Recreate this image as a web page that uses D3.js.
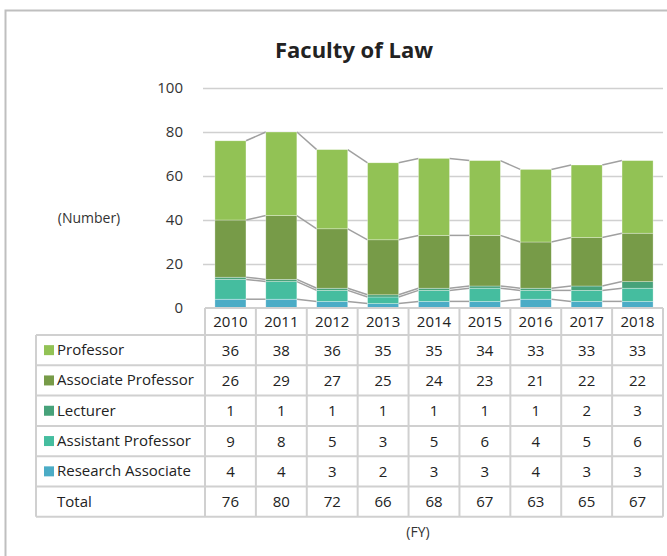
<!DOCTYPE html>
<html>
<head>
<meta charset="utf-8">
<script src="https://cdn.jsdelivr.net/npm/d3@7"></script>
<style>
  body { margin: 0; background: #fff; }
  svg { font-family: "Open Sans", "Noto Sans", sans-serif; }
</style>
</head>
<body>
<div id="chart"></div>
<script>
const years = ['2010', '2011', '2012', '2013', '2014', '2015', '2016', '2017', '2018'];

// bottom to top of each stack
const seriesNames = ['Research Associate', 'Assistant Professor', 'Lecturer', 'Associate Professor', 'Professor'];
const researchAssociate = [4, 4, 3, 2, 3, 3, 4, 3, 3];
const assistantProfessor = [9, 8, 5, 3, 5, 6, 4, 5, 6];
const lecturer = [1, 1, 1, 1, 1, 1, 1, 2, 3];
const associateProfessor = [26, 29, 27, 25, 24, 23, 21, 22, 22];
const professor = [36, 38, 36, 35, 35, 34, 33, 33, 33];
const totals = [76, 80, 72, 66, 68, 67, 63, 65, 67];
const yTicks = [0, 20, 40, 60, 80, 100];

const colors = {
  'Professor': '#92c255',
  'Associate Professor': '#779b48',
  'Lecturer': '#47a27a',
  'Assistant Professor': '#45bd9f',
  'Research Associate': '#4bacc6',
};

const size = { width: 667, height: 556 };
const plot = { left: 205, right: 663, top: 88, bottom: 308 };
const table = { left: 36, headerH: 27, rowH: 30.3 };

const svg = d3.select('#chart')
  .append('svg')
  .attr('width', size.width)
  .attr('height', size.height);

// outer frame (left + top edges visible)
svg.append('path')
  .attr('d', `M5.5,${size.height} V10.5 H${size.width}`)
  .attr('fill', 'none')
  .attr('stroke', '#bfbfbf')
  .attr('stroke-width', 2);

svg.append('text')
  .attr('x', 354)
  .attr('y', 58)
  .attr('text-anchor', 'middle')
  .style('font-size', '22px')
  .style('font-weight', 'bold')
  .style('fill', '#222')
  .text('Faculty of Law');

const x = d3.scaleBand()
  .domain(years)
  .range([plot.left, plot.right])
  .paddingInner(0.39)
  .paddingOuter(0.195);

const xCol = d3.scaleBand()
  .domain(years)
  .range([plot.left, plot.right]);

const y = d3.scaleLinear()
  .domain([0, 100])
  .range([plot.bottom, plot.top]);

// gridlines + tick labels
const grid = svg.append('g');
grid.selectAll('line')
  .data(yTicks.filter((d) => d > 0))
  .enter()
  .append('line')
  .attr('x1', plot.left - 2)
  .attr('x2', plot.right)
  .attr('y1', (d) => Math.round(y(d)) + 0.5)
  .attr('y2', (d) => Math.round(y(d)) + 0.5)
  .attr('stroke', '#d0d0d0')
  .attr('stroke-width', 1.5);

grid.selectAll('text')
  .data(yTicks)
  .enter()
  .append('text')
  .attr('x', 183)
  .attr('y', (d) => y(d) + 5)
  .attr('text-anchor', 'end')
  .style('font-size', '15px')
  .style('fill', '#333')
  .text((d) => d);

svg.append('text')
  .attr('x', 89)
  .attr('y', 223)
  .attr('text-anchor', 'middle')
  .style('font-size', '14px')
  .style('fill', '#333')
  .text('(Number)');

const valuesByName = {
  'Research Associate': researchAssociate,
  'Assistant Professor': assistantProfessor,
  'Lecturer': lecturer,
  'Associate Professor': associateProfessor,
  'Professor': professor,
};

const rows = years.map((yr, i) => {
  const row = { year: yr };
  seriesNames.forEach((n) => { row[n] = valuesByName[n][i]; });
  return row;
});

const stacked = d3.stack().keys(seriesNames)(rows);

// series lines between bars
const lines = svg.append('g');
stacked.forEach((layer) => {
  for (let i = 0; i < layer.length - 1; i++) {
    lines.append('line')
      .attr('x1', x(years[i]) + x.bandwidth())
      .attr('x2', x(years[i + 1]))
      .attr('y1', y(layer[i][1]))
      .attr('y2', y(layer[i + 1][1]))
      .attr('stroke', '#a0a0a0')
      .attr('stroke-width', 1.5);
  }
});

svg.append('g')
  .selectAll('g')
  .data(stacked)
  .enter()
  .append('g')
  .attr('fill', (d) => colors[d.key])
  .selectAll('rect')
  .data((d) => d)
  .enter()
  .append('rect')
  .attr('x', (d) => x(d.data.year))
  .attr('width', x.bandwidth())
  .attr('y', (d) => y(d[1]))
  .attr('height', (d) => y(d[0]) - y(d[1]))
  .attr('stroke', '#ffffff')
  .attr('stroke-opacity', 0.5)
  .attr('stroke-width', 0.6);

// data table
const tableRows = [
  { label: 'Professor', values: professor, key: 'Professor' },
  { label: 'Associate Professor', values: associateProfessor, key: 'Associate Professor' },
  { label: 'Lecturer', values: lecturer, key: 'Lecturer' },
  { label: 'Assistant Professor', values: assistantProfessor, key: 'Assistant Professor' },
  { label: 'Research Associate', values: researchAssociate, key: 'Research Associate' },
  { label: 'Total', values: totals, key: null },
];

const tbl = svg.append('g');
const headTop = plot.bottom;
const bodyTop = headTop + table.headerH;
const bodyBottom = bodyTop + table.rowH * tableRows.length;
const borderColor = '#d0d0d0';

const hline = (x1, x2, yy) => tbl.append('line')
  .attr('x1', x1).attr('x2', x2).attr('y1', yy).attr('y2', yy)
  .attr('stroke', borderColor).attr('stroke-width', 2);
const vline = (xx, y1, y2) => tbl.append('line')
  .attr('x1', xx).attr('x2', xx).attr('y1', y1).attr('y2', y2)
  .attr('stroke', borderColor).attr('stroke-width', 2);

hline(plot.left, plot.right, headTop);
for (let r = 0; r <= tableRows.length; r++) {
  hline(table.left, plot.right, bodyTop + r * table.rowH);
}
vline(table.left, bodyTop, bodyBottom);
years.forEach((yr) => vline(xCol(yr), headTop, bodyBottom));
vline(plot.right, headTop, bodyBottom);

tbl.selectAll('text.year')
  .data(years)
  .enter()
  .append('text')
  .attr('class', 'year')
  .attr('x', (d) => xCol(d) + xCol.bandwidth() / 2)
  .attr('y', headTop + table.headerH / 2 + 5.5)
  .attr('text-anchor', 'middle')
  .style('font-size', '15px')
  .style('fill', '#222')
  .text((d) => d);

tableRows.forEach((row, r) => {
  const cy = bodyTop + r * table.rowH + table.rowH / 2;
  if (row.key) {
    tbl.append('rect')
      .attr('x', 44)
      .attr('y', cy - 5)
      .attr('width', 10)
      .attr('height', 10)
      .attr('fill', colors[row.key]);
  }
  tbl.append('text')
    .attr('x', 57)
    .attr('y', cy + 5)
    .style('font-size', '15px')
    .style('fill', '#222')
    .text(row.label);
  tbl.selectAll(null)
    .data(row.values)
    .enter()
    .append('text')
    .attr('x', (d, i) => xCol(years[i]) + xCol.bandwidth() / 2)
    .attr('y', cy + 5.5)
    .attr('text-anchor', 'middle')
    .style('font-size', '15px')
    .style('fill', '#222')
    .text((d) => d);
});

svg.append('text')
  .attr('x', 418)
  .attr('y', 537)
  .attr('text-anchor', 'middle')
  .style('font-size', '14px')
  .style('fill', '#333')
  .text('(FY)');
</script>
</body>
</html>
